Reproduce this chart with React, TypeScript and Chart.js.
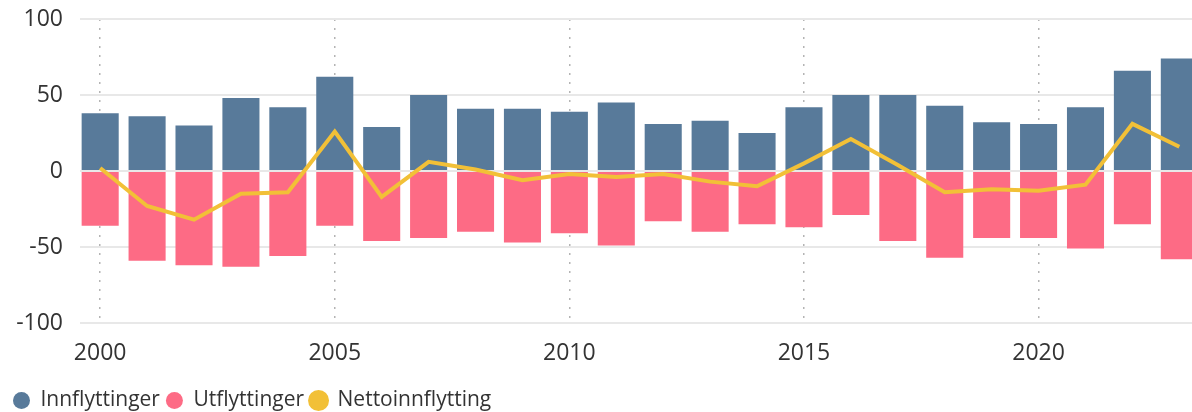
import React, { useEffect, useRef } from "react";
import { Chart, registerables } from "chart.js";

Chart.register(...registerables);

const years = [2000, 2001, 2002, 2003, 2004, 2005, 2006, 2007, 2008, 2009, 2010, 2011, 2012, 2013, 2014, 2015, 2016, 2017, 2018, 2019, 2020, 2021, 2022, 2023];
const innflyttinger = [38, 36, 30, 48, 42, 62, 29, 50, 41, 41, 39, 45, 31, 33, 25, 42, 50, 50, 43, 32, 31, 42, 66, 74];
const utflyttinger = [-36, -59, -62, -63, -56, -36, -46, -44, -40, -47, -41, -49, -33, -40, -35, -37, -29, -46, -57, -44, -44, -51, -35, -58];
const nettoinnflytting = [2, -23, -32, -15, -14, 26, -17, 6, 1, -6, -2, -4, -2, -7, -10, 5, 21, 4, -14, -12, -13, -9, 31, 16];
const xTicks = [2000, 2005, 2010, 2015, 2020];
const yTicks = [-100, -50, 0, 50, 100];

const FONT = "'Segoe UI', 'Open Sans', sans-serif";

export default function App() {
  const ref = useRef<HTMLCanvasElement>(null);
  useEffect(() => {
    document.body.style.margin = "0";
    const ctx = ref.current!;
    const chart = new Chart(ctx, {
      type: "bar",
      data: {
        datasets: [
          {
            type: "bar",
            label: "Innflyttinger",
            data: years.map((y, i) => ({ x: y, y: innflyttinger[i] })),
            backgroundColor: "#587A9A",
            grouped: false,
            barPercentage: 0.79,
            categoryPercentage: 1,
            order: 2,
          },
          {
            type: "bar",
            label: "Utflyttinger",
            data: years.map((y, i) => ({ x: y, y: utflyttinger[i] })),
            backgroundColor: "#FD6B85",
            grouped: false,
            barPercentage: 0.79,
            categoryPercentage: 1,
            order: 2,
          },
          {
            type: "line",
            label: "Nettoinnflytting",
            data: years.map((y, i) => ({ x: y, y: nettoinnflytting[i] })),
            borderColor: "#F2C037",
            backgroundColor: "#F2C037",
            borderWidth: 4,
            pointRadius: 0,
            tension: 0,
            order: 0,
          },
        ] as any,
      },
      options: {
        responsive: false,
        animation: false,
        layout: { padding: { top: 19, right: 0, left: 7, bottom: -9 } },
        scales: {
          x: {
            type: "linear",
            min: 1999.57,
            max: 2023.27,
            offset: false,
            afterBuildTicks: (s: any) => {
              s.ticks = xTicks.map((v) => ({ value: v }));
            },
            afterFit: (s: any) => {
              s.height = 61;
              s.paddingLeft = 0;
              s.paddingRight = 0;
            },
            grid: {
              color: "#B4B4B4",
              lineWidth: 1.5,
              drawTicks: false,
              offset: false,
            },
            border: { display: false, dash: [2, 7] },
            ticks: {
              padding: 17,
              color: "#333333",
              font: { family: FONT, size: 23 },
              maxRotation: 0,
              autoSkip: false,
              callback: (v: any) => String(v),
            },
          },
          y: {
            min: -100,
            max: 100,
            afterBuildTicks: (s: any) => {
              s.ticks = yTicks.map((v) => ({ value: v }));
            },
            afterFit: (s: any) => {
              s.width = 73;
              s.paddingTop = 0;
              s.paddingBottom = 0;
            },
            grid: { color: "#E8E8E8", lineWidth: 2, drawTicks: false },
            border: { display: false },
            ticks: {
              padding: 17,
              color: "#333333",
              font: { family: FONT, size: 23 },
            },
          },
        },
        plugins: {
          legend: {
            position: "bottom",
            align: "start",
            labels: {
              usePointStyle: true,
              pointStyle: "circle",
              boxHeight: 12,
              pointStyleWidth: 17,
              padding: 6,
              color: "#333333",
              font: { family: FONT, size: 21 },
              sort: (a: any, b: any) => a.datasetIndex - b.datasetIndex,
            },
          },
          tooltip: { enabled: false },
        },
      } as any,
    });
    return () => chart.destroy();
  }, []);
  return <canvas ref={ref} width={1192} height={412} style={{ display: "block" }} />;
}
